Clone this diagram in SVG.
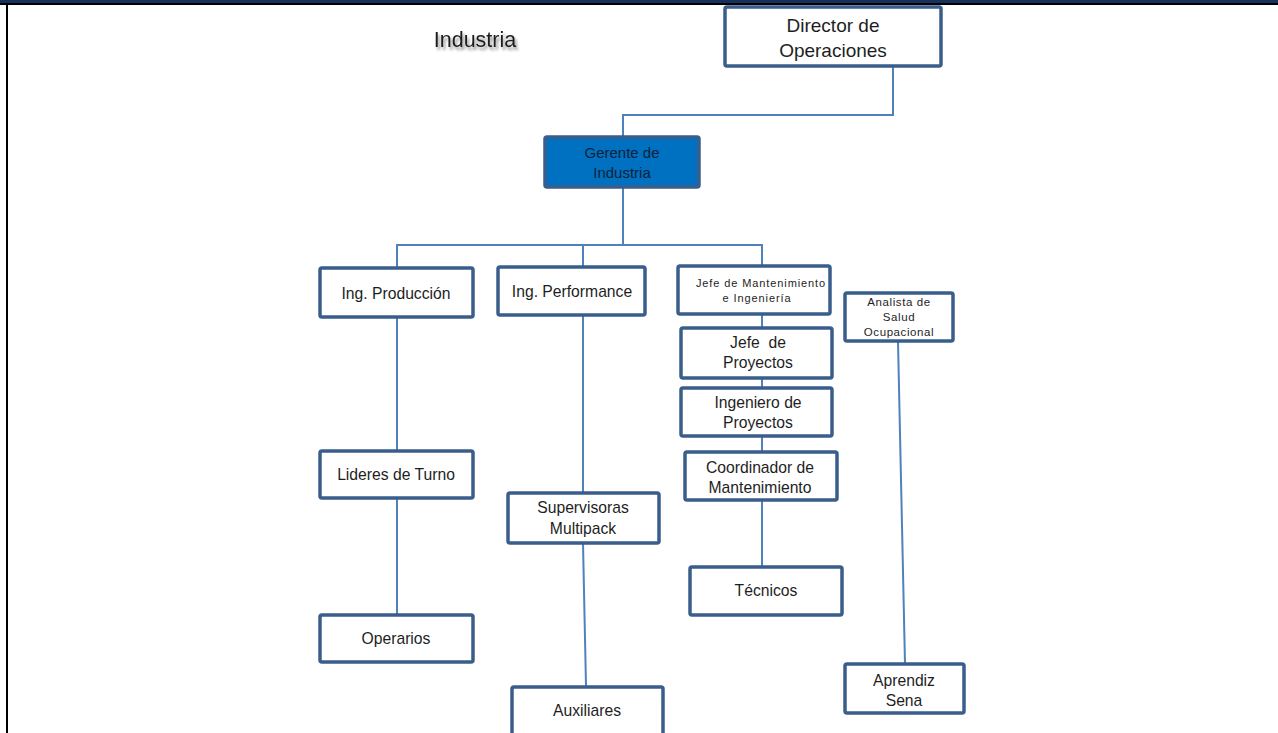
<svg xmlns="http://www.w3.org/2000/svg" width="1278" height="733" viewBox="0 0 1278 733">
<defs>
<style>
.box{fill:#ffffff;stroke:#3A5E8C;stroke-width:3.5}
.blue{fill:#0070C0;stroke:#3A5E8C;stroke-width:3.5}
.ln{stroke:#4F81BD;stroke-width:2;fill:none}
text{font-family:"Liberation Sans",Arial,sans-serif;fill:#1e1e1e;text-anchor:middle}
.t15{font-size:15.7px}
.t18{font-size:19px}
.t14{font-size:15px;fill:#10223a}
.t10{font-size:11px;letter-spacing:0.9px}
.t11{font-size:11.5px;letter-spacing:0.6px}
</style>
<filter id="sh" x="-20%" y="-50%" width="140%" height="200%">
<feGaussianBlur in="SourceAlpha" stdDeviation="1.5"/>
<feOffset dx="2" dy="3" result="b"/>
<feComponentTransfer><feFuncA type="linear" slope="0.45"/></feComponentTransfer>
<feMerge><feMergeNode/><feMergeNode in="SourceGraphic"/></feMerge>
</filter>
</defs>
<rect x="0" y="0" width="1278" height="733" fill="#ffffff"/>
<rect x="0" y="0" width="1278" height="3" fill="#17325A"/>
<rect x="0" y="3" width="1278" height="2" fill="#000000"/>
<rect x="6" y="3" width="2" height="730" fill="#000000"/>
<text x="475" y="47" style="font-size:21.5px;text-anchor:middle" filter="url(#sh)">Industria</text>
<g id="connectors">
<polyline class="ln" points="893,66 893,115 623,115 623,137"/>
<line class="ln" x1="623" y1="187" x2="623" y2="245"/>
<polyline class="ln" points="397,268 397,245 762,245 762,266"/>
<line class="ln" x1="583" y1="245" x2="583" y2="267"/>
<line class="ln" x1="397" y1="317" x2="397" y2="451"/>
<line class="ln" x1="397" y1="498" x2="397" y2="615"/>
<line class="ln" x1="583" y1="315" x2="583" y2="493"/>
<line class="ln" x1="583" y1="543" x2="586" y2="686"/>
<line class="ln" x1="762" y1="314" x2="762" y2="328"/>
<line class="ln" x1="762" y1="378" x2="762" y2="388"/>
<line class="ln" x1="762" y1="436" x2="762" y2="452"/>
<line class="ln" x1="762" y1="500" x2="762" y2="567"/>
<line class="ln" x1="898" y1="341" x2="905" y2="664"/>
</g>
<g id="director"><rect class="box" x="725" y="7" width="216" height="59" rx="2"/><text class="t18" x="833" y="32">Director de</text><text class="t18" x="833" y="57">Operaciones</text></g>
<g id="gerente"><rect class="blue" x="545" y="137" width="154" height="50" rx="2"/><text class="t14" x="622" y="158">Gerente de</text><text class="t14" x="622" y="178">Industria</text></g>
<g id="ing-produccion"><rect class="box" x="320" y="268" width="153" height="49" rx="2"/><text class="t15" x="396" y="299">Ing. Producción</text></g>
<g id="ing-performance"><rect class="box" x="498" y="267" width="147" height="48" rx="2"/><text class="t15" x="572" y="297">Ing. Performance</text></g>
<g id="jefe-mant"><rect class="box" x="678" y="266" width="152" height="48" rx="2"/><text class="t10" x="761" y="287">Jefe de Mantenimiento</text><text class="t10" x="757" y="302">e Ingeniería</text></g>
<g id="analista"><rect class="box" x="845" y="293" width="108" height="48" rx="2"/><text class="t11" x="899" y="306">Analista de</text><text class="t11" x="899" y="321">Salud</text><text class="t11" x="899" y="336">Ocupacional</text></g>
<g id="jefe-proy"><rect class="box" x="681" y="328" width="151" height="50" rx="2"/><text class="t15" x="758" y="348" xml:space="preserve">Jefe  de</text><text class="t15" x="758" y="368">Proyectos</text></g>
<g id="ing-proy"><rect class="box" x="681" y="388" width="151" height="48" rx="2"/><text class="t15" x="758" y="408">Ingeniero de</text><text class="t15" x="758" y="428">Proyectos</text></g>
<g id="coord"><rect class="box" x="685" y="452" width="152" height="48" rx="2"/><text class="t15" x="760" y="473">Coordinador de</text><text class="t15" x="760" y="493">Mantenimiento</text></g>
<g id="tecnicos"><rect class="box" x="690" y="567" width="152" height="48" rx="2"/><text class="t15" x="766" y="596">Técnicos</text></g>
<g id="lideres"><rect class="box" x="320" y="451" width="153" height="47" rx="2"/><text class="t15" x="396" y="480">Lideres de Turno</text></g>
<g id="operarios"><rect class="box" x="320" y="615" width="153" height="47" rx="2"/><text class="t15" x="396" y="644">Operarios</text></g>
<g id="supervisoras"><rect class="box" x="508" y="493" width="151" height="50" rx="2"/><text class="t15" x="583" y="513">Supervisoras</text><text class="t15" x="583" y="534">Multipack</text></g>
<g id="auxiliares"><rect class="box" x="512" y="687" width="151" height="48" rx="2"/><text class="t15" x="587" y="716">Auxiliares</text></g>
<g id="aprendiz"><rect class="box" x="845" y="664" width="119" height="49" rx="2"/><text class="t15" x="904" y="686">Aprendiz</text><text class="t15" x="904" y="706">Sena</text></g>
</svg>
